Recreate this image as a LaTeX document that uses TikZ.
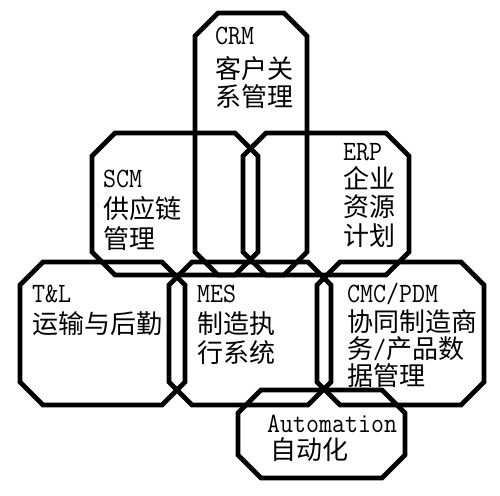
\documentclass[tikz,border=0pt]{standalone}
\usepackage{fontspec}
\usepackage{graphicx}
\newfontfamily\cjkf{Noto Sans CJK SC}
\newcommand\lt[1]{\scalebox{0.9}[1]{\fontsize{28}{30}\selectfont\ttfamily #1}}
\tikzset{
  oct/.style={line width=4.8pt, line join=miter},
  lat/.style={anchor=base west, inner sep=0pt},
  han/.style={anchor=base west, inner sep=0pt, font=\fontsize{26}{27}\selectfont\cjkf},
}
\newcommand\myoct[5]{% name x1 y1 x2 y2
  \coordinate (#1-nw) at (#2,#3);
  \coordinate (#1-se) at (#4,#5);
  \draw[oct] (#2+23,#3) -- (#4-23,#3) -- (#4,#3+23) -- (#4,#5-23) -- (#4-23,#5)
    -- (#2+23,#5) -- (#2,#5-23) -- (#2,#3+23) -- cycle;}
\begin{document}
\begin{tikzpicture}[x=1pt,y=-1pt]
\fill[white] (0,0) rectangle (500,495);
\useasboundingbox (0,0) rectangle (500,495);
% octagons
\myoct{crm}{195}{13}{307}{275}
\myoct{scm}{92}{133}{258}{275}
\myoct{erp}{243}{133}{409}{275}
\myoct{tl}{20}{262}{185}{405}
\myoct{mes}{169}{262}{331}{405}
\myoct{cmc}{317}{262}{484}{405}
\myoct{aut}{238}{390}{405}{478}
% CRM
\node[lat] (crm1) at (215,45) {\lt{CRM}};
\node[han] (crm2) at (215,78) {客户关};
\node[han] (crm3) at (215,106) {系管理};
% SCM
\node[lat] (scm1) at (103,187) {\lt{SCM}};
\node[han] (scm2) at (103,218) {供应链};
\node[han] (scm3) at (103,248) {管理};
% ERP
\node[lat] (erp1) at (343,160) {\lt{ERP}};
\node[han] (erp2) at (343,188) {企业};
\node[han] (erp3) at (343,216) {资源};
\node[han] (erp4) at (343,245) {计划};
% T&L
\node[lat] (tl1) at (32,302) {\lt{T\&L}};
\node[han] (tl2) at (32,333) {运输与后勤};
% MES
\node[lat] (mes1) at (197,302) {\lt{MES}};
\node[han] (mes2) at (197,333) {制造执};
\node[han] (mes3) at (197,362) {行系统};
% CMC/PDM
\node[lat] (cmc1) at (347,302) {\lt{CMC/PDM}};
\node[han] (cmc2) at (347,331) {协同制造商};
\node[han] (cmc3) at (347,358) {务\smash{\lt{/}}产品数};
\node[han] (cmc4) at (347,385) {据管理};
% Automation
\node[lat] (aut1) at (267,432) {\lt{Automation}};
\node[han] (aut2) at (270,459) {自动化};
\end{tikzpicture}
\end{document}
